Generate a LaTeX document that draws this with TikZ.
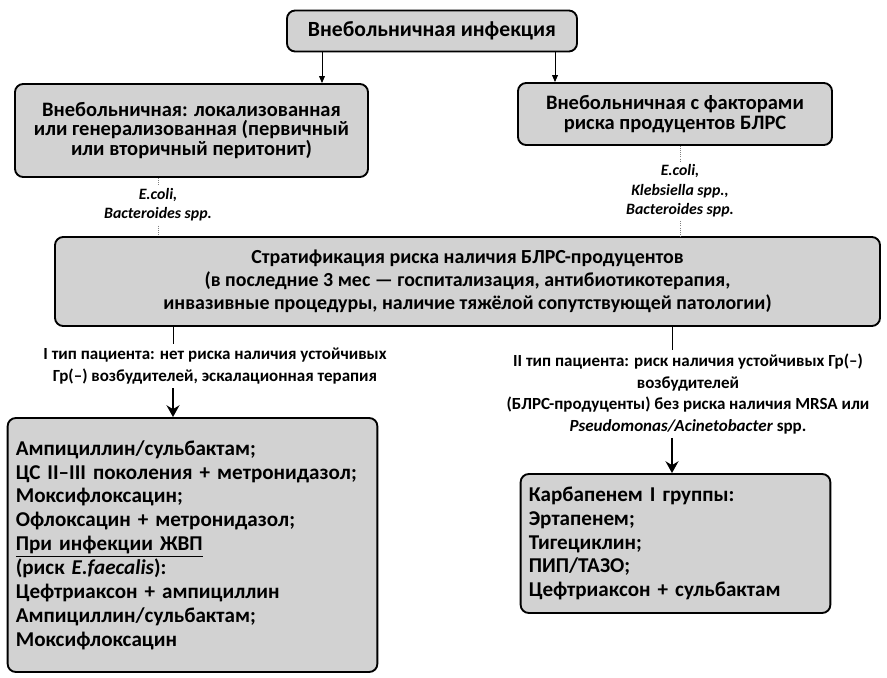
\documentclass[tikz,border=0pt]{standalone}
\usepackage{fontspec}
\setmainfont{Carlito}
\usetikzlibrary{arrows.meta}

\begin{document}
\begin{tikzpicture}[x=0.03cm,y=-0.03cm,
	box/.style={draw=black,line width=1.6pt,rounded corners=7pt,fill=gray!35,inner sep=4pt,align=center,font=\bfseries\fontsize{17.5}{16.5}\selectfont},
	spec/.style={align=center,font=\bfseries\itshape\fontsize{13.5}{16.5}\selectfont},
	ptype/.style={align=center,font=\bfseries\fontsize{14.5}{18.3}\selectfont},
	drug/.style={box,align=left,inner xsep=7pt,font=\bfseries\fontsize{18}{20.4}\selectfont},
	thin arrow/.style={-{Triangle[length=6pt,width=5pt]},line width=0.8pt},
	thick arrow/.style={-{Stealth[length=10pt,width=11pt]},line width=2.2pt},
	dot line/.style={densely dotted,line width=0.8pt,gray}]
	\useasboundingbox (0,0) rectangle (887,678);
	\node[box,font=\bfseries\fontsize{18.5}{20}\selectfont,minimum width=8.7cm,minimum height=1.23cm] (infect) at (432,31) {Внебольничная инфекция};
	\node[box,minimum width=10.59cm,minimum height=2.79cm] (local) at (191.5,130.5) {Внебольничная: локализованная\\или генерализованная (первичный\\или вторичный перитонит)};
	\node[box,minimum width=9.42cm,minimum height=1.86cm] (esbl) at (675,114) {Внебольничная с факторами\\риска продуцентов БЛРС};
	\node[spec] (lspec) at (158,205) {E.coli,\\Bacteroides spp.};
	\node[spec] (rspec) at (680,191) {E.coli,\\Klebsiella spp.,\\Bacteroides spp.};
	\node[box,font=\bfseries\fontsize{17}{19.5}\selectfont,minimum width=24.75cm,minimum height=2.67cm] (strat) at (467.5,281.5) {Стратификация риска наличия БЛРС-продуцентов\\(в последние 3 мес — госпитализация, антибиотикотерапия,\\инвазивные процедуры, наличие тяжёлой сопутствующей патологии)};
	\node[ptype] (type1) at (215,366) {I тип пациента: нет риска наличия устойчивых\\Гр(–) возбудителей, эскалационная терапия};
	\node[ptype] (type2) at (688,394) {II тип пациента: риск наличия устойчивых Гр(–)\\возбудителей\\(БЛРС-продуценты) без риска наличия MRSA или\\\textit{Pseudomonas/Acinetobacter} spp.};
	\node[drug,text width=10.6cm,minimum height=7.62cm] (drugs1) at (192.5,545) {Ампициллин/сульбактам;\\ЦС II–III поколения + метронидазол;\\Моксифлоксацин;\\Офлоксацин + метронидазол;\\\underline{При инфекции ЖВП}\\(риск \textit{E.faecalis}):\\Цефтриаксон + ампициллин\\Ампициллин/сульбактам;\\Моксифлоксацин};
	\node[drug,text width=8.8cm,minimum height=4.17cm] (drugs2) at (675.5,543.5) {Карбапенем I группы:\\Эртапенем;\\Тигециклин;\\ПИП/ТАЗО;\\Цефтриаксон + сульбактам};
	\draw[thin arrow] (infect.south -| 322,0) -- (local.north -| 322,0);
	\draw[thin arrow] (infect.south -| 555,0) -- (esbl.north -| 555,0);
	\draw[dot line] (local.south -| lspec) -- (lspec.north);
	\draw[dot line] (esbl.south -| rspec) -- (rspec.north);
	\draw[dot line] (lspec.south) -- (strat.north -| lspec);
	\draw[dot line] (rspec.south) -- (strat.north -| rspec);
	\draw[line width=0.8pt] (strat.south -| 173,0) -- (type1.north -| 173,0);
	\draw[line width=0.8pt] (strat.south -| 672,0) -- (type2.north -| 672,0);
	\draw[thick arrow] (type1.south -| 173,0) -- (drugs1.north -| 173,0);
	\draw[thick arrow] (type2.south -| 672,0) -- (drugs2.north -| 672,0);
\end{tikzpicture}
\end{document}
